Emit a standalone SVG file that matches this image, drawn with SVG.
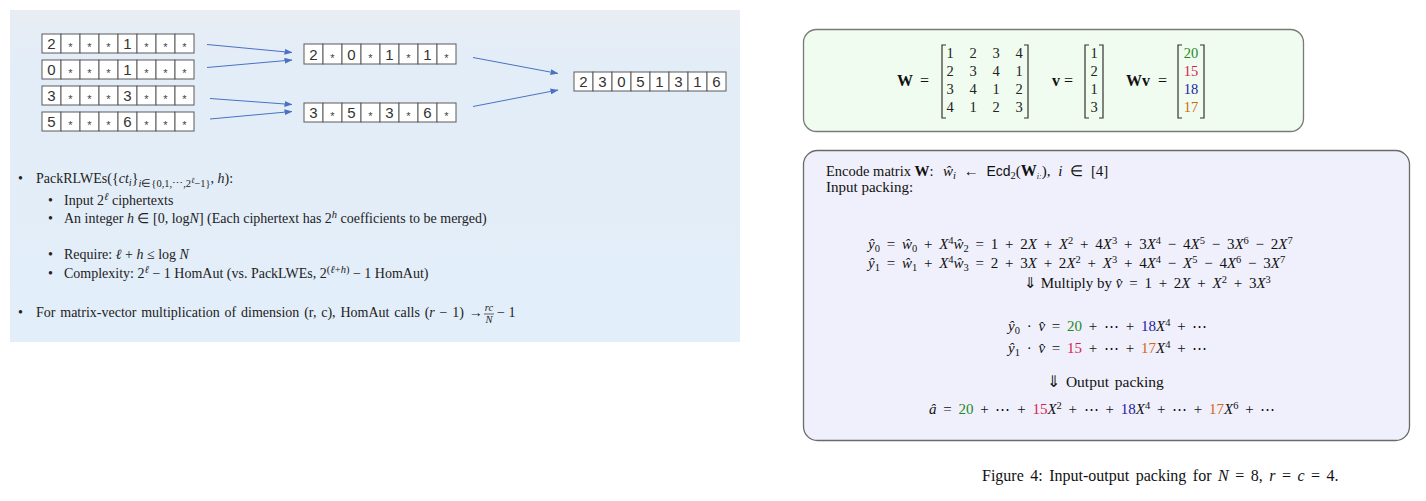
<svg xmlns="http://www.w3.org/2000/svg" width="1426" height="501" viewBox="0 0 1426 501">
<defs>
<linearGradient id="bg" x1="0" y1="0" x2="0" y2="1">
<stop offset="0" stop-color="#e9edf3"/>
<stop offset="0.15" stop-color="#e3edf8"/>
<stop offset="1" stop-color="#e2eef9"/>
</linearGradient>
<marker id="ah" viewBox="0 0 8 6" refX="7.5" refY="3" markerWidth="8" markerHeight="6" markerUnits="userSpaceOnUse" orient="auto">
<path d="M0,0 L8,3 L0,6 Z" fill="#4a72c0"/>
</marker>
<style>
.cell{fill:#ffffff;stroke:#5a5a5a;stroke-width:1}
.dg{font-family:"Liberation Sans",Arial,sans-serif;font-size:15px;fill:#333;text-anchor:middle}
.st{font-family:"Liberation Sans",Arial,sans-serif;font-size:11px;fill:#444;text-anchor:middle}
.arr{stroke:#4a72c0;stroke-width:1;fill:none;marker-end:url(#ah)}
.bt{font-family:"Liberation Serif","Times New Roman",serif;font-size:14px;fill:#222}
.m{font-family:"Liberation Serif","Times New Roman",serif;font-size:15px;fill:#111;word-spacing:3px}
.t{font-family:"Liberation Serif","Times New Roman",serif;font-size:15px;fill:#111}
.i{font-style:italic}
.b{font-weight:bold}
.s{font-size:10.5px}
.ss{font-size:8px}
.sf{font-family:"Liberation Sans",Arial,sans-serif;font-size:14px}
.mx{font-family:"Liberation Serif","Times New Roman",serif;font-size:14.5px;fill:#222;text-anchor:middle}
.lb{font-family:"Liberation Serif","Times New Roman",serif;font-size:16px;fill:#111}
.br{stroke:#333;stroke-width:1.2;fill:none}
.g{fill:#1f8a1f}.r{fill:#d81e50}.bl{fill:#1c1ca0}.o{fill:#d0690f}
</style>
</defs>

<rect x="10" y="10" width="730" height="332" fill="url(#bg)"/>

<g id="in-row-1">
<rect class="cell" x="42" y="34" width="19" height="19"/><rect class="cell" x="61" y="34" width="19" height="19"/><rect class="cell" x="80" y="34" width="19" height="19"/><rect class="cell" x="99" y="34" width="19" height="19"/><rect class="cell" x="118" y="34" width="19" height="19"/><rect class="cell" x="137" y="34" width="19" height="19"/><rect class="cell" x="156" y="34" width="19" height="19"/><rect class="cell" x="175" y="34" width="19" height="19"/>
<text class="dg" x="51.5" y="49">2</text><text class="st" x="70.5" y="51">*</text><text class="st" x="89.5" y="51">*</text><text class="st" x="108.5" y="51">*</text><text class="dg" x="127.5" y="49">1</text><text class="st" x="146.5" y="51">*</text><text class="st" x="165.5" y="51">*</text><text class="st" x="184.5" y="51">*</text>
</g>
<g id="in-row-2">
<rect class="cell" x="42" y="60" width="19" height="19"/><rect class="cell" x="61" y="60" width="19" height="19"/><rect class="cell" x="80" y="60" width="19" height="19"/><rect class="cell" x="99" y="60" width="19" height="19"/><rect class="cell" x="118" y="60" width="19" height="19"/><rect class="cell" x="137" y="60" width="19" height="19"/><rect class="cell" x="156" y="60" width="19" height="19"/><rect class="cell" x="175" y="60" width="19" height="19"/>
<text class="dg" x="51.5" y="75">0</text><text class="st" x="70.5" y="77">*</text><text class="st" x="89.5" y="77">*</text><text class="st" x="108.5" y="77">*</text><text class="dg" x="127.5" y="75">1</text><text class="st" x="146.5" y="77">*</text><text class="st" x="165.5" y="77">*</text><text class="st" x="184.5" y="77">*</text>
</g>
<g id="in-row-3">
<rect class="cell" x="42" y="86" width="19" height="19"/><rect class="cell" x="61" y="86" width="19" height="19"/><rect class="cell" x="80" y="86" width="19" height="19"/><rect class="cell" x="99" y="86" width="19" height="19"/><rect class="cell" x="118" y="86" width="19" height="19"/><rect class="cell" x="137" y="86" width="19" height="19"/><rect class="cell" x="156" y="86" width="19" height="19"/><rect class="cell" x="175" y="86" width="19" height="19"/>
<text class="dg" x="51.5" y="101">3</text><text class="st" x="70.5" y="103">*</text><text class="st" x="89.5" y="103">*</text><text class="st" x="108.5" y="103">*</text><text class="dg" x="127.5" y="101">3</text><text class="st" x="146.5" y="103">*</text><text class="st" x="165.5" y="103">*</text><text class="st" x="184.5" y="103">*</text>
</g>
<g id="in-row-4">
<rect class="cell" x="42" y="112" width="19" height="19"/><rect class="cell" x="61" y="112" width="19" height="19"/><rect class="cell" x="80" y="112" width="19" height="19"/><rect class="cell" x="99" y="112" width="19" height="19"/><rect class="cell" x="118" y="112" width="19" height="19"/><rect class="cell" x="137" y="112" width="19" height="19"/><rect class="cell" x="156" y="112" width="19" height="19"/><rect class="cell" x="175" y="112" width="19" height="19"/>
<text class="dg" x="51.5" y="127">5</text><text class="st" x="70.5" y="129">*</text><text class="st" x="89.5" y="129">*</text><text class="st" x="108.5" y="129">*</text><text class="dg" x="127.5" y="127">6</text><text class="st" x="146.5" y="129">*</text><text class="st" x="165.5" y="129">*</text><text class="st" x="184.5" y="129">*</text>
</g>

<g id="mid-row-1">
<rect class="cell" x="304" y="44" width="19" height="20"/><rect class="cell" x="323" y="44" width="19" height="20"/><rect class="cell" x="342" y="44" width="19" height="20"/><rect class="cell" x="361" y="44" width="19" height="20"/><rect class="cell" x="380" y="44" width="19" height="20"/><rect class="cell" x="399" y="44" width="19" height="20"/><rect class="cell" x="418" y="44" width="19" height="20"/><rect class="cell" x="437" y="44" width="19" height="20"/>
<text class="dg" x="313.5" y="60">2</text><text class="st" x="332.5" y="62">*</text><text class="dg" x="351.5" y="60">0</text><text class="st" x="370.5" y="62">*</text><text class="dg" x="389.5" y="60">1</text><text class="st" x="408.5" y="62">*</text><text class="dg" x="427.5" y="60">1</text><text class="st" x="446.5" y="62">*</text>
</g>
<g id="mid-row-2">
<rect class="cell" x="304" y="103" width="19" height="19"/><rect class="cell" x="323" y="103" width="19" height="19"/><rect class="cell" x="342" y="103" width="19" height="19"/><rect class="cell" x="361" y="103" width="19" height="19"/><rect class="cell" x="380" y="103" width="19" height="19"/><rect class="cell" x="399" y="103" width="19" height="19"/><rect class="cell" x="418" y="103" width="19" height="19"/><rect class="cell" x="437" y="103" width="19" height="19"/>
<text class="dg" x="313.5" y="118">3</text><text class="st" x="332.5" y="120">*</text><text class="dg" x="351.5" y="118">5</text><text class="st" x="370.5" y="120">*</text><text class="dg" x="389.5" y="118">3</text><text class="st" x="408.5" y="120">*</text><text class="dg" x="427.5" y="118">6</text><text class="st" x="446.5" y="120">*</text>
</g>
<g id="out-row">
<rect class="cell" x="574" y="72" width="19" height="19"/><rect class="cell" x="593" y="72" width="19" height="19"/><rect class="cell" x="612" y="72" width="19" height="19"/><rect class="cell" x="631" y="72" width="19" height="19"/><rect class="cell" x="650" y="72" width="19" height="19"/><rect class="cell" x="669" y="72" width="19" height="19"/><rect class="cell" x="688" y="72" width="19" height="19"/><rect class="cell" x="707" y="72" width="19" height="19"/>
<text class="dg" x="583.5" y="87">2</text><text class="dg" x="602.5" y="87">3</text><text class="dg" x="621.5" y="87">0</text><text class="dg" x="640.5" y="87">5</text><text class="dg" x="659.5" y="87">1</text><text class="dg" x="678.5" y="87">3</text><text class="dg" x="697.5" y="87">1</text><text class="dg" x="716.5" y="87">6</text>
</g>

<g id="connectors">
<line class="arr" x1="207" y1="44.5" x2="292" y2="52.5"/>
<line class="arr" x1="207" y1="67.5" x2="292" y2="60"/>
<line class="arr" x1="210" y1="98.5" x2="292" y2="104.5"/>
<line class="arr" x1="210" y1="119" x2="292" y2="111.5"/>
<line class="arr" x1="473" y1="57.5" x2="558" y2="73.5"/>
<line class="arr" x1="473" y1="106.5" x2="558" y2="90"/>
</g>

<g id="bullets">
<text class="bt" x="18" y="183">•</text>
<text class="bt" x="36" y="183">PackRLWEs({<tspan class="i">ct</tspan><tspan class="i s" dy="3">i</tspan><tspan dy="-3">}</tspan><tspan class="s" dy="4"><tspan class="i">i</tspan>∈{0,1,⋯,2</tspan><tspan class="i ss" dy="-4">ℓ</tspan><tspan class="s" dy="4">−1}</tspan><tspan dy="-4">, </tspan><tspan class="i">h</tspan>):</text>
<text class="bt" x="48" y="205">•</text>
<text class="bt" x="64" y="205">Input 2<tspan class="i s" dy="-5">ℓ</tspan><tspan dy="5"> ciphertexts</tspan></text>
<text class="bt" x="48" y="223">•</text>
<text class="bt" x="64" y="223">An integer <tspan class="i">h</tspan> ∈ [0, log<tspan class="i">N</tspan>] (Each ciphertext has 2<tspan class="i s" dy="-5">h</tspan><tspan dy="5"> coefficients to be merged)</tspan></text>
<text class="bt" x="48" y="259">•</text>
<text class="bt" x="64" y="259">Require: <tspan class="i">ℓ</tspan> + <tspan class="i">h</tspan> ≤ log <tspan class="i">N</tspan></text>
<text class="bt" x="48" y="278">•</text>
<text class="bt" x="64" y="278">Complexity: 2<tspan class="i s" dy="-5">ℓ</tspan><tspan dy="5"> − 1 HomAut (vs. PackLWEs, 2</tspan><tspan class="s" dy="-5">(<tspan class="i">ℓ</tspan>+<tspan class="i">h</tspan>)</tspan><tspan dy="5"> − 1 HomAut)</tspan></text>
<text class="bt" x="18" y="317">•</text>
<text class="bt" x="36" y="317" style="word-spacing:1.3px">For matrix-vector multiplication of dimension (r, c), HomAut calls (<tspan class="i">r</tspan> − 1) →</text>
<text class="bt i s" x="489" y="311" text-anchor="middle">rc</text>
<line x1="484" y1="314" x2="494" y2="314" stroke="#222" stroke-width="0.7"/>
<text class="bt i s" x="489" y="323" text-anchor="middle">N</text>
<text class="bt" x="497" y="317">− 1</text>
</g>

<g id="example-box">
<rect x="803.5" y="29.5" width="500" height="102" rx="13" fill="#effcef" stroke="#7a7a7a" stroke-width="1.3"/>
<text class="lb b" x="897" y="86">W</text>
<text class="lb" x="920" y="86">=</text>
<path class="br" d="M946,45 H942 V118 H946 M1024,45 H1028 V118 H1024"/>
<text class="mx" x="950" y="58">1</text><text class="mx" x="973" y="58">2</text><text class="mx" x="996" y="58">3</text><text class="mx" x="1019" y="58">4</text>
<text class="mx" x="950" y="76">2</text><text class="mx" x="973" y="76">3</text><text class="mx" x="996" y="76">4</text><text class="mx" x="1019" y="76">1</text>
<text class="mx" x="950" y="94">3</text><text class="mx" x="973" y="94">4</text><text class="mx" x="996" y="94">1</text><text class="mx" x="1019" y="94">2</text>
<text class="mx" x="950" y="112">4</text><text class="mx" x="973" y="112">1</text><text class="mx" x="996" y="112">2</text><text class="mx" x="1019" y="112">3</text>
<text class="lb b" x="1052" y="86">v</text>
<text class="lb" x="1064" y="86">=</text>
<path class="br" d="M1089,45 H1085 V118 H1089 M1099,45 H1103 V118 H1099"/>
<text class="mx" x="1094" y="58">1</text><text class="mx" x="1094" y="76">2</text><text class="mx" x="1094" y="94">1</text><text class="mx" x="1094" y="112">3</text>
<text class="lb b" x="1126" y="86">Wv</text>
<text class="lb" x="1158" y="86">=</text>
<path class="br" d="M1182,45 H1178 V118 H1182 M1200,45 H1204 V118 H1200"/>
<text class="mx g" x="1191" y="58">20</text><text class="mx r" x="1191" y="76">15</text><text class="mx bl" x="1191" y="94">18</text><text class="mx o" x="1191" y="112">17</text>
</g>

<g id="packing-box">
<rect x="803.5" y="150.5" width="606" height="290" rx="14" fill="#f0f0fc" stroke="#6a6a6a" stroke-width="1.3"/>
<text class="t" x="826" y="176" style="font-size:14.5px">Encode matrix <tspan class="b" style="font-size:15px">W</tspan>:</text>
<text class="m" x="943" y="176" style="word-spacing:4px"><tspan class="i">ŵ</tspan><tspan class="i s" dy="3">i</tspan><tspan dy="-3"> ← </tspan><tspan class="sf">Ecd</tspan><tspan class="s" dy="3">2</tspan><tspan dy="-3">(</tspan><tspan class="b" style="font-size:16px">W</tspan><tspan class="i ss" dy="3">i:</tspan><tspan dy="-3">), </tspan><tspan class="i">i</tspan> ∈ [4]</text>
<text class="t" x="826" y="192">Input packing:</text>
<text class="m" x="868" y="249"><tspan class="i">ŷ</tspan><tspan class="s" dy="3">0</tspan><tspan dy="-3"> = </tspan><tspan class="i">ŵ</tspan><tspan class="s" dy="3">0</tspan><tspan dy="-3"> + </tspan><tspan class="i">X</tspan><tspan class="s" dy="-5">4</tspan><tspan class="i" dy="5">ŵ</tspan><tspan class="s" dy="3">2</tspan><tspan dy="-3"> = 1 + 2</tspan><tspan class="i">X</tspan> + <tspan class="i">X</tspan><tspan class="s" dy="-5">2</tspan><tspan dy="5"> + 4</tspan><tspan class="i">X</tspan><tspan class="s" dy="-5">3</tspan><tspan dy="5"> + 3</tspan><tspan class="i">X</tspan><tspan class="s" dy="-5">4</tspan><tspan dy="5"> − 4</tspan><tspan class="i">X</tspan><tspan class="s" dy="-5">5</tspan><tspan dy="5"> − 3</tspan><tspan class="i">X</tspan><tspan class="s" dy="-5">6</tspan><tspan dy="5"> − 2</tspan><tspan class="i">X</tspan><tspan class="s" dy="-5">7</tspan></text>
<text class="m" x="868" y="268"><tspan class="i">ŷ</tspan><tspan class="s" dy="3">1</tspan><tspan dy="-3"> = </tspan><tspan class="i">ŵ</tspan><tspan class="s" dy="3">1</tspan><tspan dy="-3"> + </tspan><tspan class="i">X</tspan><tspan class="s" dy="-5">4</tspan><tspan class="i" dy="5">ŵ</tspan><tspan class="s" dy="3">3</tspan><tspan dy="-3"> = 2 + 3</tspan><tspan class="i">X</tspan> + 2<tspan class="i">X</tspan><tspan class="s" dy="-5">2</tspan><tspan dy="5"> + </tspan><tspan class="i">X</tspan><tspan class="s" dy="-5">3</tspan><tspan dy="5"> + 4</tspan><tspan class="i">X</tspan><tspan class="s" dy="-5">4</tspan><tspan dy="5"> − </tspan><tspan class="i">X</tspan><tspan class="s" dy="-5">5</tspan><tspan dy="5"> − 4</tspan><tspan class="i">X</tspan><tspan class="s" dy="-5">6</tspan><tspan dy="5"> − 3</tspan><tspan class="i">X</tspan><tspan class="s" dy="-5">7</tspan></text>
<text class="m" x="1024" y="288"><tspan style="word-spacing:0">⇓ Multiply by </tspan><tspan class="i">v̂</tspan> = 1 + 2<tspan class="i">X</tspan> + <tspan class="i">X</tspan><tspan class="s" dy="-5">2</tspan><tspan dy="5"> + 3</tspan><tspan class="i">X</tspan><tspan class="s" dy="-5">3</tspan></text>
<text class="m" x="1008" y="331"><tspan class="i">ŷ</tspan><tspan class="s" dy="3">0</tspan><tspan dy="-3"> · </tspan><tspan class="i">v̂</tspan> = <tspan class="g">20</tspan> + ⋯ + <tspan class="bl">18</tspan><tspan class="i">X</tspan><tspan class="s" dy="-5">4</tspan><tspan dy="5"> + ⋯</tspan></text>
<text class="m" x="1008" y="353"><tspan class="i">ŷ</tspan><tspan class="s" dy="3">1</tspan><tspan dy="-3"> · </tspan><tspan class="i">v̂</tspan> = <tspan class="r">15</tspan> + ⋯ + <tspan class="o">17</tspan><tspan class="i">X</tspan><tspan class="s" dy="-5">4</tspan><tspan dy="5"> + ⋯</tspan></text>
<text class="t" x="1047" y="387" style="font-size:15.5px;word-spacing:2px">⇓ Output packing</text>
<text class="m" x="929" y="414"><tspan class="i">â</tspan> = <tspan class="g">20</tspan> + ⋯ + <tspan class="r">15</tspan><tspan class="i">X</tspan><tspan class="s" dy="-5">2</tspan><tspan dy="5"> + ⋯ + </tspan><tspan class="bl">18</tspan><tspan class="i">X</tspan><tspan class="s" dy="-5">4</tspan><tspan dy="5"> + ⋯ + </tspan><tspan class="o">17</tspan><tspan class="i">X</tspan><tspan class="s" dy="-5">6</tspan><tspan dy="5"> + ⋯</tspan></text>
</g>

<g id="caption">
<text class="t" x="982" y="481" style="font-size:16px;word-spacing:2.5px">Figure 4: Input-output packing for <tspan class="i">N</tspan> = 8, <tspan class="i">r</tspan> = <tspan class="i">c</tspan> = 4.</text>
</g>
</svg>
